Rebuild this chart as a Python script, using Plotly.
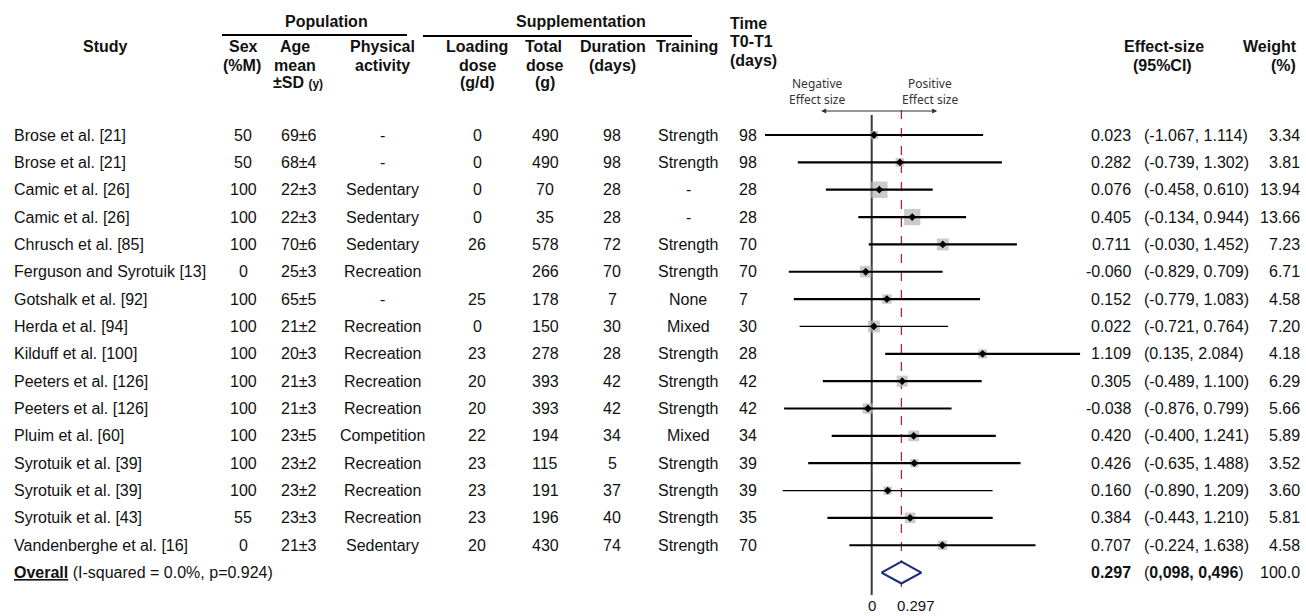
import plotly.graph_objects as go

# ---------------- data ----------------
studies = ["Brose et al. [21]", "Brose et al. [21]", "Camic et al. [26]", "Camic et al. [26]",
           "Chrusch et al. [85]", "Ferguson and Syrotuik [13]", "Gotshalk et al. [92]",
           "Herda et al. [94]", "Kilduff et al. [100]", "Peeters et al. [126]",
           "Peeters et al. [126]", "Pluim et al. [60]", "Syrotuik et al. [39]",
           "Syrotuik et al. [39]", "Syrotuik et al. [43]", "Vandenberghe et al. [16]"]
sex = [50, 50, 100, 100, 100, 0, 100, 100, 100, 100, 100, 100, 100, 100, 55, 0]
age = ["69±6", "68±4", "22±3", "22±3", "70±6", "25±3", "65±5", "21±2", "20±3", "21±3",
       "21±3", "23±5", "23±2", "23±2", "23±3", "21±3"]
activity = ["-", "-", "Sedentary", "Sedentary", "Sedentary", "Recreation", "-", "Recreation",
            "Recreation", "Recreation", "Recreation", "Competition", "Recreation",
            "Recreation", "Recreation", "Sedentary"]
loading = ["0", "0", "0", "0", "26", "", "25", "0", "23", "20", "20", "22", "23", "23", "23", "20"]
total_dose = [490, 490, 70, 35, 578, 266, 178, 150, 278, 393, 393, 194, 115, 191, 196, 430]
duration = [98, 98, 28, 28, 72, 70, 7, 30, 28, 42, 42, 34, 5, 37, 40, 74]
training = ["Strength", "Strength", "-", "-", "Strength", "Strength", "None", "Mixed",
            "Strength", "Strength", "Strength", "Mixed", "Strength", "Strength", "Strength",
            "Strength"]
time_t0t1 = [98, 98, 28, 28, 70, 70, 7, 30, 28, 42, 42, 34, 39, 39, 35, 70]
effect = [0.023, 0.282, 0.076, 0.405, 0.711, -0.060, 0.152, 0.022, 1.109, 0.305, -0.038,
          0.420, 0.426, 0.160, 0.384, 0.707]
ci_low = [-1.067, -0.739, -0.458, -0.134, -0.030, -0.829, -0.779, -0.721, 0.135, -0.489,
          -0.876, -0.400, -0.635, -0.890, -0.443, -0.224]
ci_high = [1.114, 1.302, 0.610, 0.944, 1.452, 0.709, 1.083, 0.764, 2.084, 1.100, 0.799,
           1.241, 1.488, 1.209, 1.210, 1.638]
weight = [3.34, 3.81, 13.94, 13.66, 7.23, 6.71, 4.58, 7.20, 4.18, 6.29, 5.66, 5.89, 3.52,
          3.60, 5.81, 4.58]
overall_es = 0.297
overall_low = 0.098
overall_high = 0.496
overall_ci_text = "0,098, 0,496"
overall_weight = "100.0"
overall_label = "(I-squared = 0.0%, p=0.924)"
tick_vals = [0, overall_es]
tick_text = ["0", "0.297"]

# ---------------- layout helpers ----------------
W, H = 1306, 616
ROW0, ROWH = 135.0, 27.35
n = len(studies)
rows = list(range(n))
overall_row = n


def px(x):
    return x / W


def py(y):
    return 1 - y / H


def prow(y):  # pixel y -> row units
    return (y - ROW0) / ROWH


FONT = "Arial, 'Liberation Sans', sans-serif"
TXT = "#111111"
thin_rows = {7, 13}

fig = go.Figure()

# vertical reference lines
fig.add_trace(go.Scatter(x=[0, 0], y=[prow(115), prow(595)], mode="lines",
                         line=dict(color="#3a3a3a", width=2), hoverinfo="skip"))
fig.add_trace(go.Scatter(x=[overall_es, overall_es], y=[prow(110), prow(596)], mode="lines",
                         line=dict(color="#a52a3a", width=1.3, dash="dash"), hoverinfo="skip"))

# weight squares
fig.add_trace(go.Scatter(x=effect, y=rows, mode="markers",
                         marker=dict(symbol="square", color="#b5b5b5",
                                     size=[4.4 * w ** 0.5 for w in weight],
                                     line=dict(width=0)), hoverinfo="skip"))

# CI lines
for thin in (False, True):
    xs, ys = [], []
    for i in rows:
        if (i in thin_rows) == thin:
            xs += [ci_low[i], ci_high[i], None]
            ys += [i, i, None]
    fig.add_trace(go.Scatter(x=xs, y=ys, mode="lines",
                             line=dict(color="#000000", width=1.2 if thin else 2.2),
                             hoverinfo="skip"))

# point estimates
fig.add_trace(go.Scatter(x=effect, y=rows, mode="markers",
                         marker=dict(symbol="diamond", color="#000000", size=6),
                         hoverinfo="skip"))

# overall diamond
dh = 0.4
fig.add_trace(go.Scatter(x=[overall_low, overall_es, overall_high, overall_es, overall_low],
                         y=[overall_row, overall_row - dh, overall_row, overall_row + dh, overall_row],
                         mode="lines", line=dict(color="#1c2a80", width=2.2),
                         fill="toself", fillcolor="white", hoverinfo="skip"))

ann = []


def add_text(text, x, y, xanchor="center", yref="y", size=16, color=TXT, family=FONT):
    ann.append(dict(text=text, x=px(x), xref="paper", y=y, yref=yref, xanchor=xanchor,
                    yanchor="middle", showarrow=False,
                    font=dict(size=size, color=color, family=family)))


def add_head(text, x, ypx, xanchor="center", size=16):
    add_text("<b>%s</b>" % text, x, py(ypx), xanchor=xanchor, yref="paper", size=size)


# headers
add_head("Population", 327, 22)
add_head("Supplementation", 581, 22)
add_head("Time", 728, 23, xanchor="left")
add_head("T0-T1", 728, 42, xanchor="left")
add_head("(days)", 728, 61, xanchor="left")
add_head("Study", 105, 46)
add_head("Sex", 243, 46)
add_head("(%M)", 242, 65)
add_head("Age", 295, 46)
add_head("mean", 295, 65)
add_text("<b>±SD <span style='font-size:12px'>(y)</span></b>", 298, py(83), yref="paper")
add_head("Physical", 382, 46)
add_head("activity", 382, 65)
add_head("Loading", 477, 46)
add_head("dose", 477, 65)
add_head("(g/d)", 477, 83)
add_head("Total", 543, 46)
add_head("dose", 544, 65)
add_head("(g)", 545, 83)
add_head("Duration", 613, 46)
add_head("(days)", 612, 65)
add_head("Training", 687, 46)
add_head("Effect-size", 1164, 46)
add_head("(95%CI)", 1162, 65)
add_head("Weight", 1299, 46, xanchor="right")
add_head("(%)", 1298, 65, xanchor="right")

# table body
for i in rows:
    add_text(studies[i], 12, i, xanchor="left")
    add_text(str(sex[i]), 243, i)
    add_text(age[i], 299, i)
    add_text(activity[i], 382, i)
    add_text(loading[i], 477, i)
    add_text(str(total_dose[i]), 545, i)
    add_text(str(duration[i]), 612, i)
    add_text(training[i], 688, i)
    add_text(str(time_t0t1[i]), 737, i, xanchor="left")
    add_text("%.3f" % effect[i], 1133, i, xanchor="right")
    add_text("(%.3f, %.3f)" % (ci_low[i], ci_high[i]), 1142, i, xanchor="left")
    add_text("%.2f" % weight[i], 1302, i, xanchor="right")

# overall row
add_text("<b><u>Overall</u></b> " + overall_label, 12, overall_row, xanchor="left")
add_text("<b>%.3f</b>" % overall_es, 1133, overall_row, xanchor="right")
add_text("(<b>%s</b>)" % overall_ci_text, 1142, overall_row, xanchor="left")
add_text(overall_weight, 1302, overall_row, xanchor="right")

# axis tick labels (placed on the forest axis)
for val, lab, anchor, shift in zip(tick_vals, tick_text, ("center", "left"), (0, -6)):
    ann.append(dict(text=lab, x=val, xref="x", y=prow(605), yref="y", showarrow=False,
                    xanchor=anchor, yanchor="middle", xshift=shift,
                    font=dict(size=15, color=TXT, family=FONT)))

# effect-size direction labels
for label, xc in (("Negative", -0.547), ("Positive", 0.583)):
    for line, ypx in ((label, 83), ("Effect size", 99)):
        ann.append(dict(text=line, x=xc, xref="x", y=prow(ypx), yref="y", showarrow=False,
                        xanchor="center", yanchor="middle",
                        font=dict(size=12, color="#333333", family="'Noto Sans', sans-serif")))
ann.append(dict(text="", x=0.655, y=prow(111), xref="x", yref="y", ax=-0.52, ay=prow(111),
                axref="x", ayref="y", showarrow=True, arrowside="end+start", arrowhead=2,
                arrowsize=1, arrowwidth=1, arrowcolor="#333333", standoff=0, startstandoff=0))

shapes = [
    dict(type="line", xref="paper", yref="paper", x0=px(222), x1=px(407), y0=py(35), y1=py(35),
         line=dict(color="#000000", width=2)),
    dict(type="line", xref="paper", yref="paper", x0=px(423), x1=px(692), y0=py(36), y1=py(36),
         line=dict(color="#000000", width=2)),
]

fig.update_layout(
    width=W, height=H, margin=dict(l=0, r=0, t=0, b=0),
    paper_bgcolor="white", plot_bgcolor="white", showlegend=False,
    font=dict(family=FONT, size=16, color=TXT),
    annotations=ann, shapes=shapes,
    xaxis=dict(domain=[px(760), px(1090)],
               range=[(760 - 871.7) / 100.0, (1090 - 871.7) / 100.0],
               showgrid=False, zeroline=False, showline=False, ticks="",
               showticklabels=False),
    yaxis=dict(domain=[0, 1], range=[prow(H), prow(0)], visible=False,
               showgrid=False, zeroline=False),
)

fig.write_html("out.html", config={"displayModeBar": False},
               post_script="document.body.style.margin='0';document.body.style.padding='0';"
                           "document.documentElement.style.overflow='hidden';")
